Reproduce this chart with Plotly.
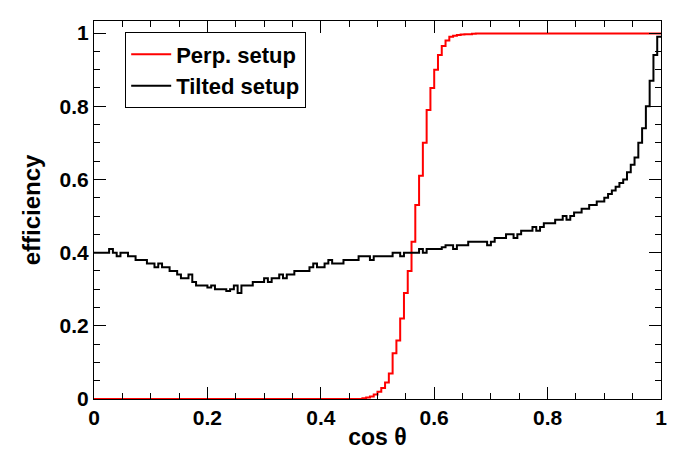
import numpy as np
import plotly.graph_objects as go

# 150 bins in cos(theta) from 0 to 1
n_bins = 150
edges = np.linspace(0, 1, n_bins + 1)

tilted = [
    0.40, 0.40, 0.40, 0.40, 0.41, 0.40, 0.39, 0.40, 0.40, 0.39,
    0.39, 0.38, 0.38, 0.38, 0.37, 0.37, 0.36, 0.37, 0.36, 0.36,
    0.35, 0.35, 0.34, 0.33, 0.33, 0.34, 0.32, 0.31, 0.31, 0.31,
    0.305, 0.31, 0.30, 0.30, 0.30, 0.295, 0.30, 0.31, 0.29, 0.31,
    0.31, 0.31, 0.32, 0.32, 0.32, 0.33, 0.32, 0.33, 0.33, 0.34,
    0.33, 0.34, 0.34, 0.35, 0.35, 0.35, 0.35, 0.36, 0.37, 0.36,
    0.36, 0.37, 0.38, 0.37, 0.37, 0.37, 0.38, 0.38, 0.38, 0.38,
    0.39, 0.39, 0.39, 0.38, 0.39, 0.39, 0.39, 0.39, 0.39, 0.40,
    0.40, 0.39, 0.40, 0.40, 0.40, 0.40, 0.41, 0.40, 0.41, 0.41,
    0.41, 0.41, 0.415, 0.42, 0.42, 0.41, 0.42, 0.42, 0.42, 0.43,
    0.43, 0.43, 0.43, 0.43, 0.42, 0.43, 0.44, 0.44, 0.44, 0.45,
    0.45, 0.44, 0.45, 0.46, 0.46, 0.46, 0.47, 0.46, 0.47, 0.48,
    0.48, 0.48, 0.49, 0.49, 0.50, 0.49, 0.50, 0.51, 0.51, 0.52,
    0.52, 0.53, 0.53, 0.54, 0.54, 0.55, 0.56, 0.57, 0.58, 0.59,
    0.60, 0.62, 0.64, 0.66, 0.70, 0.74, 0.80, 0.87, 0.94, 0.99,
]

perp_rise = [
    0.002, 0.004, 0.007, 0.012, 0.02, 0.03, 0.045, 0.07, 0.125, 0.16,
    0.22, 0.29, 0.35, 0.43, 0.53, 0.61, 0.70, 0.79, 0.85, 0.90,
    0.94, 0.965, 0.98, 0.99, 0.993, 0.995, 0.996, 0.997, 0.997, 0.998,
]
perp = [0.0] * 71 + perp_rise + [0.999] * (n_bins - 71 - len(perp_rise))

fig = go.Figure()
for name, vals, col in [("Perp. setup", perp, "red"), ("Tilted setup", tilted, "black")]:
    fig.add_trace(go.Scatter(
        x=edges, y=list(vals) + [vals[-1]], mode="lines", name=name,
        line=dict(color=col, width=2, shape="hv"),
    ))

axis_style = dict(
    showline=True, linecolor="black", linewidth=1, mirror="allticks",
    ticks="inside", ticklen=12, tickcolor="black", showgrid=False, zeroline=False,
    minor=dict(ticks="inside", ticklen=6, tickcolor="black", nticks=5),
    tickfont=dict(size=21, family="Liberation Sans", color="black", weight="bold"),
    tickformat="~g", automargin=False,
)
fig.update_xaxes(range=[0, 1], dtick=0.2, **axis_style,
                 title=dict(text="<b>cos θ</b>", font=dict(size=23, family="Liberation Sans"), standoff=0))
fig.update_yaxes(range=[0, 1.033], tickvals=[0, 0.2, 0.4, 0.6, 0.8, 1], **axis_style,
                 title=dict(text="<b>efficiency</b>", font=dict(size=24, family="Liberation Sans"), standoff=12))

fig.update_layout(
    width=675, height=458,
    margin=dict(l=86, r=22, t=13, b=67),
    plot_bgcolor="white", paper_bgcolor="white",
    font=dict(family="Liberation Sans", color="black"),
    legend=dict(x=0.055, y=0.97, xanchor="left", yanchor="top",
                bordercolor="black", borderwidth=1, bgcolor="white",
                font=dict(size=22, family="Liberation Sans", weight="bold"), itemwidth=40),
)
fig.write_html("out.html")
